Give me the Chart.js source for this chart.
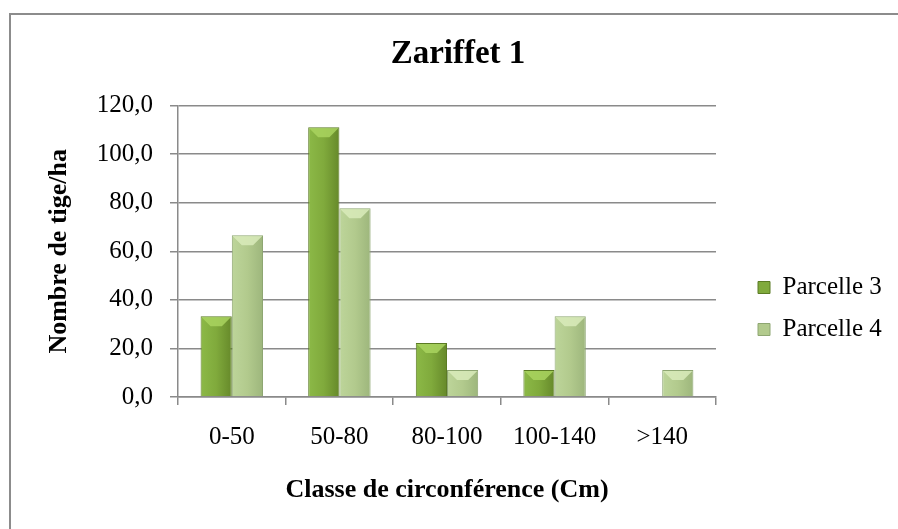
<!DOCTYPE html>
<html>
<head>
<meta charset="utf-8">
<script src="https://cdn.jsdelivr.net/npm/chart.js@4.4.1/dist/chart.umd.min.js"></script>
<style>
  html, body { margin: 0; padding: 0; background: #fff; overflow: hidden; }
  #frame { position: absolute; left: 9px; top: 13px; width: 1000px; height: 1000px; border: 2px solid #8c8c8c; }
  #wrap { position: absolute; left: 0; top: 0; width: 898px; height: 529px; }
</style>
</head>
<body>
<div id="frame"></div>
<div id="wrap"><canvas id="chart"></canvas></div>
<script>
// Data
const categories = ["0-50", "50-80", "80-100", "100-140", ">140"];
const parcelle3 = [33.3, 111.1, 22.2, 11.1, 0];
const parcelle4 = [66.6, 77.7, 11.1, 33.3, 11.1];
const seriesNames = ["Parcelle 3", "Parcelle 4"];

const serif = "'Liberation Serif', 'Times New Roman', serif";
const gridGray = "#8a8a8a";

// Colours for the two series: [left, middle, right, top bevel, border]
const shades = [
    ["#8cb947", "#80aa3c", "#66892a", "#a9d45f", "#5b7b24"],
    ["#bdd59a", "#b2ca8d", "#9db67c", "#d9ebbb", "#8ea672"]
];

// Paint each bar with a side-to-side gradient and a light top bevel
const bevelPlugin = {
    id: "bevel",
    beforeDatasetsDraw(chart) {
        const ctx = chart.ctx;
        chart.data.datasets.forEach((ds, di) => {
            const s = shades[di];
            chart.getDatasetMeta(di).data.forEach(el => {
                const l = el.x - el.width / 2, r = el.x + el.width / 2;
                const g = ctx.createLinearGradient(l, 0, r, 0);
                g.addColorStop(0, s[0]);
                g.addColorStop(0.5, s[1]);
                g.addColorStop(1, s[2]);
                el.options.backgroundColor = g;
            });
        });
    },
    afterDatasetsDraw(chart) {
        const ctx = chart.ctx;
        chart.data.datasets.forEach((ds, di) => {
            const s = shades[di];
            chart.getDatasetMeta(di).data.forEach(el => {
                const h = el.base - el.y;
                if (h < 2) return;
                const l = el.x - el.width / 2 + 1, r = el.x + el.width / 2 - 1;
                const b = Math.min(9, h / 2);
                ctx.save();
                ctx.fillStyle = s[3];
                ctx.globalAlpha = 0.85;
                ctx.beginPath();
                ctx.moveTo(l, el.y + 1);
                ctx.lineTo(r, el.y + 1);
                ctx.lineTo(r - b, el.y + 1 + b);
                ctx.lineTo(l + b, el.y + 1 + b);
                ctx.closePath();
                ctx.fill();
                ctx.restore();
            });
        });
    }
};

// Fix the legend width, move legend and title to where they sit in the picture
const placePlugin = {
    id: "place",
    beforeLayout(chart) {
        const lg = chart.legend;
        if (lg && !lg._fixed) {
            const fit = lg.fit;
            lg.fit = function () {
                fit.call(this);
                this.width = 182;
            };
            lg._fixed = true;
        }
    },
    afterLayout(chart) {
        const lg = chart.legend;
        const pad = lg.options.labels.padding;
        lg.left = 758 - pad;
        lg.right = 898;
        lg.top += 44;
        lg.bottom += 44;
        const tb = chart.titleBlock;
        tb.left += 9;
        tb.right += 9;
    }
};

new Chart(document.getElementById("chart"), {
    type: "bar",
    data: {
        labels: categories,
        datasets: [
            {
                label: seriesNames[0],
                data: parcelle3,
                backgroundColor: () => shades[0][1],
                borderColor: shades[0][4],
                borderWidth: 1
            },
            {
                label: seriesNames[1],
                data: parcelle4,
                backgroundColor: () => shades[1][1],
                borderColor: shades[1][4],
                borderWidth: 1
            }
        ]
    },
    options: {
        responsive: true,
        maintainAspectRatio: false,
        animation: false,
        layout: { padding: 0 },
        datasets: {
            bar: { categoryPercentage: 0.58, barPercentage: 1 }
        },
        plugins: {
            title: {
                display: true,
                text: "Zariffet 1",
                color: "#000",
                font: { family: serif, size: 33, weight: "bold" },
                padding: { top: 35, bottom: 31 }
            },
            legend: {
                position: "right",
                labels: {
                    color: "#000",
                    font: { family: serif, size: 25 },
                    boxWidth: 12,
                    boxHeight: 12,
                    padding: 17
                }
            },
            tooltip: { enabled: false }
        },
        scales: {
            x: {
                afterFit(scale) { scale.height = 132; },
                grid: {
                    display: true,
                    drawOnChartArea: false,
                    drawTicks: true,
                    tickLength: 8,
                    color: gridGray,
                    lineWidth: 1.5
                },
                border: { display: true, color: gridGray, width: 1.5 },
                ticks: {
                    color: "#000",
                    font: { family: serif, size: 25 },
                    padding: 17,
                    maxRotation: 0
                },
                title: {
                    display: true,
                    text: "Classe de circonférence (Cm)",
                    color: "#000",
                    font: { family: serif, size: 26, weight: "bold" },
                    padding: { top: 0, bottom: 23 }
                }
            },
            y: {
                min: 0,
                max: 120,
                afterFit(scale) { scale.width = 178; },
                grid: {
                    color: gridGray,
                    lineWidth: 1.5,
                    drawTicks: true,
                    tickLength: 8
                },
                border: { display: true, color: gridGray, width: 1.5 },
                ticks: {
                    stepSize: 20,
                    color: "#000",
                    font: { family: serif, size: 25 },
                    padding: 17,
                    callback: v => v.toFixed(1).replace(".", ",")
                },
                title: {
                    display: true,
                    text: "Nombre de tige/ha",
                    color: "#000",
                    font: { family: serif, size: 26, weight: "bold" },
                    padding: { top: 44, bottom: 0 }
                }
            }
        }
    },
    plugins: [bevelPlugin, placePlugin]
});
</script>
</body>
</html>
